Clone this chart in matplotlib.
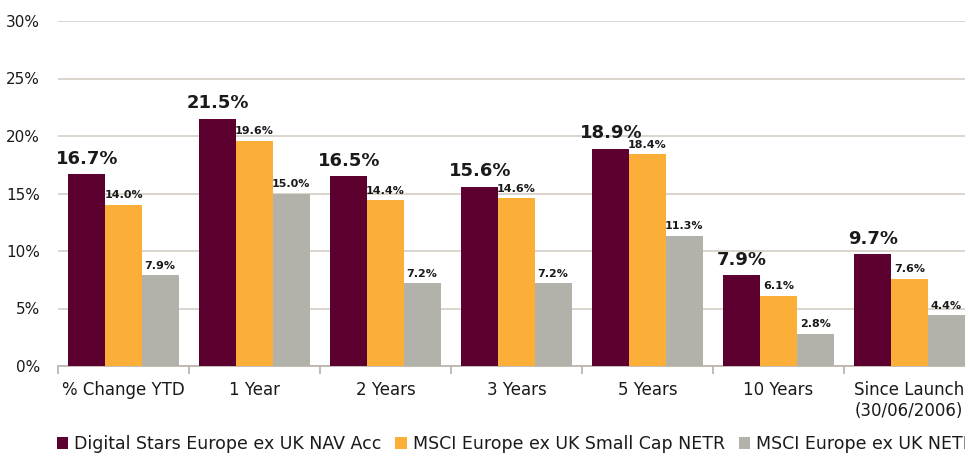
import numpy as np
import matplotlib
matplotlib.use("Agg")
import matplotlib.pyplot as plt

categories = ["% Change YTD", "1 Year", "2 Years", "3 Years", "5 Years",
              "10 Years", "Since Launch\n(30/06/2006)"]
series_names = ["Digital Stars Europe ex UK NAV Acc",
                "MSCI Europe ex UK Small Cap NETR",
                "MSCI Europe ex UK NETR"]
fund = [16.7, 21.5, 16.5, 15.6, 18.9, 7.9, 9.7]
small_cap = [14.0, 19.6, 14.4, 14.6, 18.4, 6.1, 7.6]
broad = [7.9, 15.0, 7.2, 7.2, 11.3, 2.8, 4.4]

colors = ["#5C0030", "#FBAE38", "#B2B2AA"]
txt = '#1A1A1A'

plt.rcParams['font.family'] = ['DejaVu Sans']

fig = plt.figure(figsize=(9.65, 4.53), dpi=100)
ax = fig.add_axes([58/965, 1 - 366/453, 917/965, 345/453])

x = np.arange(len(categories))
w = 0.28
for i, (vals, c, name) in enumerate(zip([fund, small_cap, broad], colors, series_names)):
    pos = x + (i - 1) * w
    ax.bar(pos, vals, width=w, color=c, label=name, zorder=3)
    for p, v in zip(pos, vals):
        if i == 0:
            ax.text(p, v + 0.55, f"{v:.1f}%", ha='center', va='bottom',
                    fontsize=13, fontweight='bold', color=txt)
        else:
            ax.text(p, v + 0.4, f"{v:.1f}%", ha='center', va='bottom',
                    fontsize=8, fontweight='bold', color=txt)

ax.set_xlim(-0.5, len(categories) - 0.5)
ax.set_ylim(0, 30)
ax.set_yticks(range(0, 31, 5))
ax.set_yticklabels([f"{t}%" for t in range(0, 31, 5)], fontsize=11, color=txt)
ax.yaxis.grid(True, color='#D9D1C9', linewidth=1.3, zorder=0)
ax.tick_params(axis='y', length=0, pad=13)

ax.set_xticks(x)
ax.set_xticklabels(categories, fontsize=12, color=txt)
ax.set_xticks(np.arange(-0.5, len(categories), 1), minor=True)
ax.tick_params(axis='x', which='major', length=0, pad=11)
ax.tick_params(axis='x', which='minor', length=6, color='#BEB6AE', width=1.3)
for lbl in ax.get_xticklabels():
    lbl.set_multialignment('left')

for s in ['top', 'right', 'left']:
    ax.spines[s].set_visible(False)
ax.spines['bottom'].set_color('#BEB6AE')
ax.spines['bottom'].set_linewidth(1.3)

leg = fig.legend(loc='lower left', bbox_to_anchor=(41/965, -0.035), ncol=3,
                 frameon=False, fontsize=12.5, handlelength=0.65, handleheight=0.65,
                 handletextpad=0.35, columnspacing=0.8)
for t in leg.get_texts():
    t.set_color(txt)

fig.savefig("out.png", dpi=100)
